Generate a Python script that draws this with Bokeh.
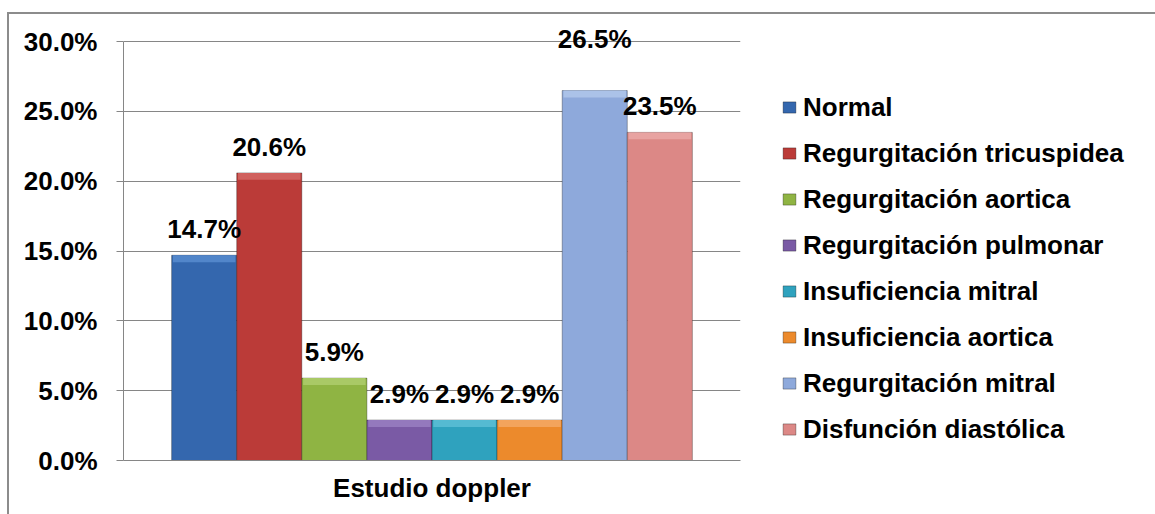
from bokeh.plotting import figure
from bokeh.models import (ColumnDataSource, FactorRange, Range1d, FixedTicker,
                          PrintfTickFormatter, Legend, LegendItem, LabelSet)
from bokeh.transform import dodge
from bokeh.core.properties import value
from bokeh.embed import file_html
from bokeh.resources import INLINE

# ---- data ----
category = ["Estudio doppler"]
series_names = [
    "Normal",
    "Regurgitación tricuspidea",
    "Regurgitación aortica",
    "Regurgitación pulmonar",
    "Insuficiencia mitral",
    "Insuficiencia aortica",
    "Regurgitación mitral",
    "Disfunción diastólica",
]
percentages = [14.7, 20.6, 5.9, 2.9, 2.9, 2.9, 26.5, 23.5]
y_ticks = [0, 5, 10, 15, 20, 25, 30]

# ---- styles ----
series_colors = ["#3467AE", "#BB3B38", "#8FB443", "#7A5AA5",
                 "#2FA2BE", "#EC8A2C", "#8EA9DB", "#DC8886"]
highlight_colors = ["#5286CA", "#D0605D", "#A9C966", "#9479BD",
                    "#55BAD2", "#F3A45C", "#ABC2E8", "#E8A3A1"]
FONT = "Liberation Sans"
GRID = "#868686"

n = len(series_names)
slot = 0.1055          # width of one bar in category units
bevel_depth = 0.5      # top highlight depth in value units
y_top = y_ticks[-1]
headroom = 1.8         # room above the axis so the top label is not clipped
px_per_unit = 419 / y_top

p = figure(
    x_range=FactorRange(*category),
    y_range=Range1d(0, y_top + headroom),
    frame_width=617, frame_height=round(px_per_unit * (y_top + headroom)),
    min_border_left=114, min_border_top=2,
    min_border_right=415, min_border_bottom=54,
    output_backend="svg", toolbar_location=None,
)
p.outline_line_color = None
p.background_fill_color = "white"
p.border_fill_color = "white"

items = []
for i, (name, val, col, hi) in enumerate(zip(series_names, percentages,
                                             series_colors, highlight_colors)):
    off = (i - (n - 1) / 2) * slot
    src = ColumnDataSource(dict(cat=category, val=[val],
                                bevel=[val - bevel_depth],
                                label=[f"{val:.1f}%"]))
    xs = dodge("cat", off, range=p.x_range)
    r = p.vbar(x=xs, top="val", bottom=0, width=slot, source=src,
               fill_color=col, line_color="black", line_alpha=0.3, line_width=1)
    p.vbar(x=xs, top="val", bottom="bevel", width=slot * 0.96, source=src,
           fill_color=hi, line_color=None)
    lift = 43 if name == "Regurgitación mitral" else 17
    labels = LabelSet(x=xs, y="val", text="label", source=src,
                      text_align="center", text_baseline="alphabetic",
                      y_offset=lift, text_font=value(FONT),
                      text_font_style="bold",
                      text_font_size="26px", text_color="black")
    p.add_layout(labels)
    items.append(LegendItem(label=name, renderers=[r]))

legend = Legend(items=items, location=(41, 8), orientation="vertical",
                margin=0, padding=0, spacing=0, label_height=46,
                glyph_height=14, glyph_width=16, label_standoff=6,
                label_text_font=FONT, label_text_font_style="bold",
                label_text_font_size="26px", label_text_color="black",
                border_line_color=None, background_fill_alpha=0)
p.add_layout(legend, "right")

# y axis
p.yaxis.ticker = FixedTicker(ticks=y_ticks)
p.yaxis.bounds = (0, y_top)
p.yaxis.formatter = PrintfTickFormatter(format="%.1f%%")
p.yaxis.major_tick_out = 7
p.yaxis.major_tick_in = 0
p.yaxis.minor_tick_line_color = None
p.yaxis.major_label_standoff = 19
p.yaxis.major_label_text_font = FONT
p.yaxis.major_label_text_font_style = "bold"
p.yaxis.major_label_text_font_size = "26px"
p.yaxis.major_label_text_color = "black"
p.yaxis.axis_line_color = GRID
p.yaxis.major_tick_line_color = GRID

# x axis
p.xaxis.major_tick_line_color = None
p.xaxis.major_tick_out = 0
p.xaxis.major_label_standoff = 12
p.xaxis.major_label_text_font = FONT
p.xaxis.major_label_text_font_style = "bold"
p.xaxis.major_label_text_font_size = "26px"
p.xaxis.major_label_text_color = "black"
p.xaxis.axis_line_color = GRID

p.xgrid.grid_line_color = None
p.ygrid.grid_line_color = GRID
p.ygrid.grid_line_width = 1

p.styles = {"border-top": "2px solid #8c8c8c", "border-left": "2px solid #8c8c8c"}
p.margin = (12, 0, 0, 7)

open("out.html", "w").write(file_html(p, INLINE))
